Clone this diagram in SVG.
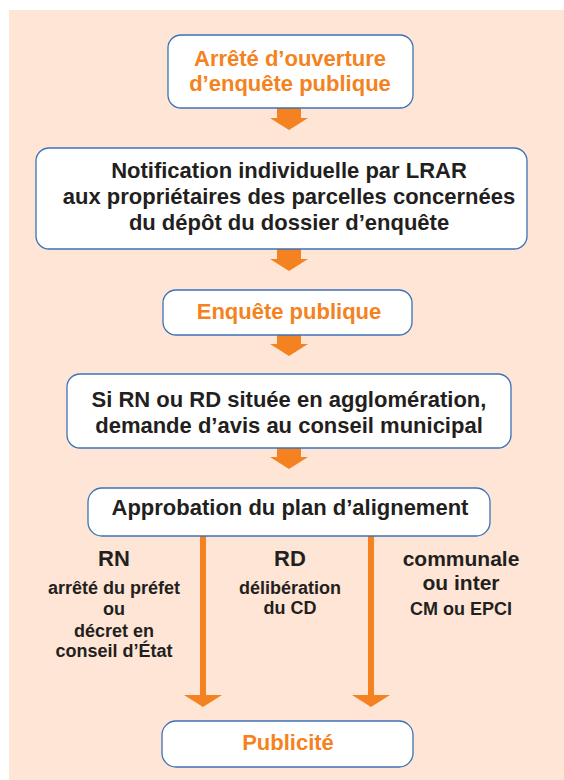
<svg xmlns="http://www.w3.org/2000/svg" width="564" height="780" viewBox="0 0 564 780">
<style>
.bg{fill:#FEE5D5}
.box{fill:#FFFFFF;stroke:#3D72B6;stroke-width:1.3}
.arrow{fill:#F58220}
text{font-family:"Liberation Sans",Arial,Helvetica,sans-serif;font-weight:bold;text-anchor:middle}
.o{fill:#F58220;font-size:22px}
.d{fill:#231F20;font-size:22px}
.h{fill:#231F20;font-size:22px}
.c{fill:#231F20;font-size:21px}
.s{fill:#231F20;font-size:18px}
</style>
<rect class="bg" x="9" y="10" width="555" height="770"/>
<g id="connectors">
<polygon class="arrow" points="277,108 301,108 301,118 308,118 289,130 270,118 277,118"/>
<polygon class="arrow" points="277,249 301,249 301,259 308,259 289,271 270,259 277,259"/>
<polygon class="arrow" points="277,335 301,335 301,344 308,344 289,356 270,344 277,344"/>
<polygon class="arrow" points="277,448 301,448 301,457 308,457 289,469 270,457 277,457"/>
<polygon class="arrow" points="200,536 206,536 206,695 222,695 203,707 184,695 200,695"/>
<polygon class="arrow" points="368,536 374,536 374,695 390,695 371,707 352,695 368,695"/>
</g>
<g id="n1">
<rect class="box" x="168" y="35" width="245" height="73" rx="13"/>
<text class="o" x="290" y="66">Arrêté d’ouverture</text>
<text class="o" x="290" y="91">d’enquête publique</text>
</g>
<g id="n2">
<rect class="box" x="36" y="148" width="491" height="101" rx="13"/>
<text class="d" x="289" y="178">Notification individuelle par LRAR</text>
<text class="d" x="289" y="204">aux propriétaires des parcelles concernées</text>
<text class="d" x="289" y="230">du dépôt du dossier d’enquête</text>
</g>
<g id="n3">
<rect class="box" x="163" y="290" width="249" height="45" rx="13"/>
<text class="o" x="289" y="319">Enquête publique</text>
</g>
<g id="n4">
<rect class="box" x="67" y="374" width="444" height="74" rx="13"/>
<text class="d" x="289" y="407">Si RN ou RD située en agglomération,</text>
<text class="d" x="289" y="433">demande d’avis au conseil municipal</text>
</g>
<g id="n5">
<rect class="box" x="88" y="488" width="402" height="48" rx="14"/>
<text class="d" x="290" y="515">Approbation du plan d’alignement</text>
</g>
<g id="l-rn">
<text class="h" x="114" y="566">RN</text>
<text class="s" x="114" y="594">arrêté du préfet</text>
<text class="s" x="114" y="615">ou</text>
<text class="s" x="114" y="637">décret en</text>
<text class="s" x="114" y="657">conseil d’État</text>
</g>
<g id="l-rd">
<text class="h" x="290" y="566">RD</text>
<text class="s" x="290" y="594">délibération</text>
<text class="s" x="290" y="614">du CD</text>
</g>
<g id="l-com">
<text class="c" x="461" y="566">communale</text>
<text class="c" x="461" y="590">ou inter</text>
<text class="s" x="461" y="615">CM ou EPCI</text>
</g>
<g id="n6">
<rect class="box" x="162" y="721" width="251" height="46" rx="14"/>
<text class="o" x="288" y="750">Publicité</text>
</g>
</svg>
